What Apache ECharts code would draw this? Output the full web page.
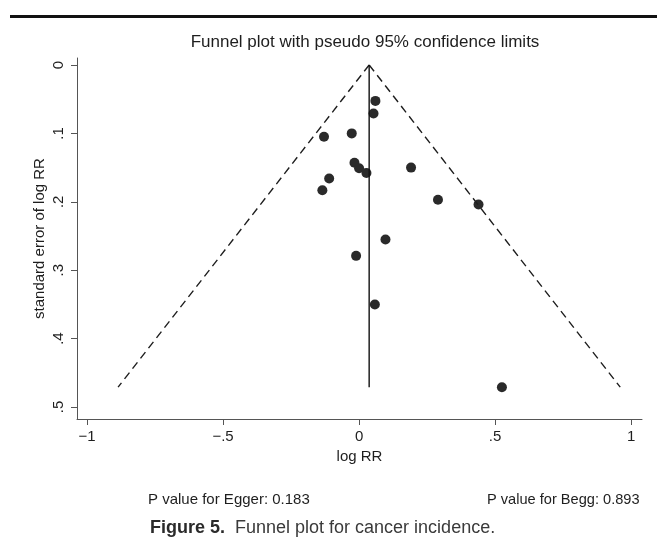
<!DOCTYPE html>
<html><head><meta charset="utf-8">
<script src="https://cdn.jsdelivr.net/npm/echarts@6/dist/echarts.min.js"></script>
<style>html,body{margin:0;padding:0;background:#fff}#c{width:657px;height:549px}</style>
</head><body><div id="c"></div><script>
// Study estimates (log RR) and their standard errors
const logRR   = [0.060, 0.053, -0.129, -0.027, -0.017, 0.000, 0.027, 0.191, -0.110, -0.135, 0.290, 0.439, 0.097, -0.011, 0.058, 0.525];
const seLogRR = [0.0525, 0.071, 0.105, 0.100, 0.143, 0.151, 0.158, 0.150, 0.166, 0.183, 0.197, 0.204, 0.255, 0.279, 0.350, 0.471];
// Pooled estimate and pseudo 95% limits at the largest SE
const pooledLogRR = 0.037;
const maxSE = 0.471;
const lowerLimitAtMaxSE = -0.886;
const upperLimitAtMaxSE = 0.960;
// Tick values and labels
const xTicks = [-1, -0.5, 0, 0.5, 1];
const xTickLabels = ['\u22121', '\u2212.5', '0', '.5', '1'];
const yTicks = [0, 0.1, 0.2, 0.3, 0.4, 0.5];
const yTickLabels = ['0', '.1', '.2', '.3', '.4', '.5'];

const FONT = 'Liberation Sans, Arial, sans-serif';
const INK = '#1e1e1e';

const points = logRR.map((v, i) => [v, seLogRR[i]]);

const chart = echarts.init(document.getElementById('c'), null, {renderer: 'canvas'});
chart.setOption({
  backgroundColor: '#fff',
  animation: false,
  textStyle: {fontFamily: FONT},
  title: [
    {text: 'Funnel plot with pseudo 95% confidence limits', left: 360, top: 29, textAlign: 'center',
     textStyle: {fontFamily: FONT, fontSize: 17, fontWeight: 'normal', color: INK}},
    {text: 'P value for Egger: 0.183', left: 143, top: 487,
     textStyle: {fontFamily: FONT, fontSize: 15, fontWeight: 'normal', color: INK}},
    {text: 'P value for Begg: 0.893', left: 482, top: 487,
     textStyle: {fontFamily: FONT, fontSize: 14.6, fontWeight: 'normal', color: INK}},
    {text: '{b|Figure 5.}  {r|Funnel plot for cancer incidence.}', left: 145, top: 514,
     textStyle: {rich: {
       b: {fontFamily: FONT, fontSize: 18, fontWeight: 'bold', color: '#2a2a2a'},
       r: {fontFamily: FONT, fontSize: 18, fontWeight: 'normal', color: '#3a3a3a'}
     }}}
  ],
  graphic: [
    {type: 'rect', shape: {x: 10, y: 15, width: 647, height: 3}, style: {fill: '#111'}, silent: true}
  ],
  grid: {left: 77, right: 15, top: 58, bottom: 130, containLabel: false},
  xAxis: {
    type: 'value', min: -1.037, max: 1.040, position: 'bottom',
    name: 'log RR', nameLocation: 'middle', nameGap: 30,
    nameTextStyle: {fontFamily: FONT, fontSize: 15, color: INK},
    splitLine: {show: false},
    axisLine: {show: true, onZero: false, lineStyle: {color: '#555', width: 1}},
    axisTick: {show: true, length: 6, customValues: xTicks, lineStyle: {color: '#555'}},
    axisLabel: {customValues: xTicks, margin: 10, fontFamily: FONT, fontSize: 15, color: INK,
      formatter: v => { const i = xTicks.findIndex(t => Math.abs(t - v) < 1e-9); return i >= 0 ? xTickLabels[i] : ''; }}
  },
  yAxis: {
    type: 'value', inverse: true, min: -0.0102, max: 0.5175, position: 'left',
    name: 'standard error of log RR', nameLocation: 'middle', nameGap: 30, nameRotate: 90,
    nameMoveOverlap: false,
    nameTextStyle: {fontFamily: FONT, fontSize: 15, color: INK},
    splitLine: {show: false},
    axisLine: {show: true, onZero: false, lineStyle: {color: '#555', width: 1}},
    axisTick: {show: true, length: 6, customValues: yTicks, lineStyle: {color: '#555'}},
    axisLabel: {customValues: yTicks, rotate: 90, margin: 11, fontFamily: FONT, fontSize: 15, color: INK,
      formatter: v => { const i = yTicks.findIndex(t => Math.abs(t - v) < 1e-9); return i >= 0 ? yTickLabels[i] : ''; }}
  },
  series: [
    {type: 'line', data: [[pooledLogRR, 0], [lowerLimitAtMaxSE, maxSE]], symbol: 'none',
     lineStyle: {color: INK, width: 1.4, type: [8, 5]}, silent: true},
    {type: 'line', data: [[pooledLogRR, 0], [upperLimitAtMaxSE, maxSE]], symbol: 'none',
     lineStyle: {color: INK, width: 1.4, type: [8, 5]}, silent: true},
    {type: 'line', data: [[pooledLogRR, 0], [pooledLogRR, maxSE]], symbol: 'none',
     lineStyle: {color: '#111', width: 1.4}, silent: true},
    {type: 'scatter', data: points, symbol: 'circle', symbolSize: 10,
     itemStyle: {color: '#2a2a2a', opacity: 1}}
  ]
});
</script></body></html>
